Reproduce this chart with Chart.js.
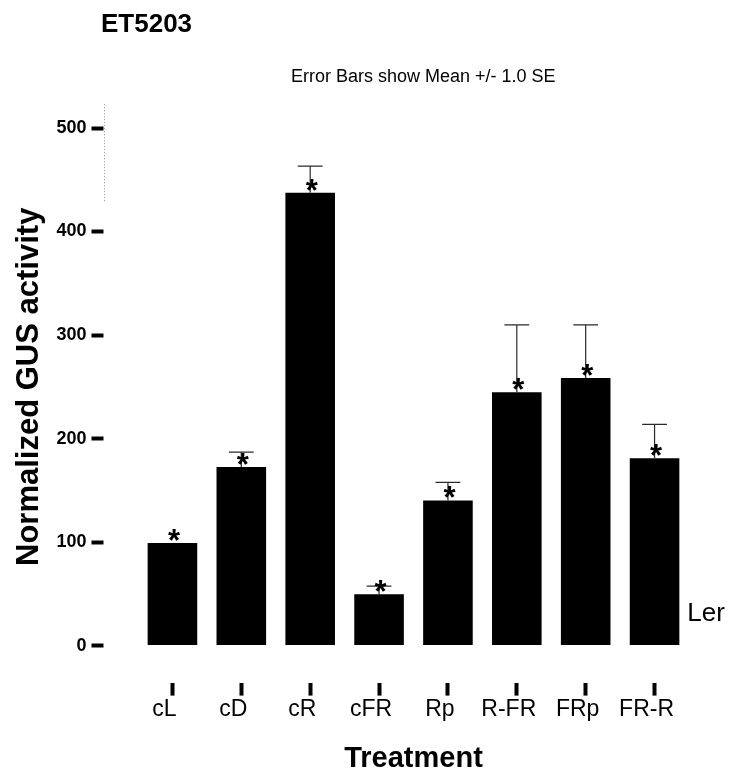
<!DOCTYPE html>
<html>
<head>
<meta charset="utf-8">
<script src="https://cdn.jsdelivr.net/npm/chart.js@4"></script>
<style>
  html, body { margin: 0; padding: 0; background: #ffffff; }
  #wrap { position: relative; width: 732px; height: 776px; }
</style>
</head>
<body>
<div id="wrap"><canvas id="c"></canvas></div>
<script>
// ---- data ----
const categories = ['cL', 'cD', 'cR', 'cFR', 'Rp', 'R-FR', 'FRp', 'FR-R'];
const meanValues = [99, 172.6, 437.5, 49.7, 140.2, 244.8, 258.6, 181];
const seValues   = [0, 14.2, 25.6, 7.8, 17.5, 65, 51.2, 32.7];
const yTickValues = [0, 100, 200, 300, 400, 500];
const titleText = 'ET5203';
const subtitleText = 'Error Bars show Mean +/- 1.0 SE';
const seriesName = 'Ler';
const xTitle = 'Treatment';
const yTitle = 'Normalized GUS activity';

const FONT = "'Liberation Sans', Arial, Helvetica, sans-serif";
const Y_TICK_GAP = 34.5;   // gap between plot area and the y tick marks
const Y_TICK_LEN = 12;
const X_TICK_GAP = 37;
const X_TICK_LEN = 13;

const decorPlugin = {
  id: 'decor',
  afterDatasetsDraw(chart) {
    const ctx = chart.ctx;
    const y = chart.scales.y;
    const meta = chart.getDatasetMeta(0);
    ctx.save();
    meta.data.forEach((bar, i) => {
      const se = seValues[i];
      if (se > 0) {
        const yTop = y.getPixelForValue(meanValues[i] + se);
        const half = bar.width * 0.25;
        ctx.strokeStyle = '#2a2a2a';
        ctx.lineWidth = 1.2;
        ctx.beginPath();
        ctx.moveTo(bar.x, bar.y);
        ctx.lineTo(bar.x, yTop);
        ctx.moveTo(bar.x - half, yTop);
        ctx.lineTo(bar.x + half, yTop);
        ctx.stroke();
      }
      // asterisk marking the mean
      ctx.fillStyle = '#000';
      ctx.font = 'bold 31px ' + FONT;
      ctx.textAlign = 'center';
      ctx.textBaseline = 'alphabetic';
      ctx.fillText('*', bar.x + 1.5, bar.y + 8);
    });
    ctx.restore();
  },
  afterDraw(chart) {
    const ctx = chart.ctx;
    const area = chart.chartArea;
    const y = chart.scales.y;
    const meta = chart.getDatasetMeta(0);
    ctx.save();
    // faint dotted axis fragment at the top of the y axis
    ctx.strokeStyle = '#8a8a8a';
    ctx.lineWidth = 1;
    ctx.setLineDash([1, 2]);
    ctx.beginPath();
    const ax = Math.round(area.left - Y_TICK_GAP) + 0.5;
    ctx.moveTo(ax, y.getPixelForValue(523));
    ctx.lineTo(ax, y.getPixelForValue(428));
    ctx.stroke();
    ctx.setLineDash([]);
    // title and subtitle
    ctx.fillStyle = '#000';
    ctx.textAlign = 'left';
    ctx.textBaseline = 'alphabetic';
    ctx.font = 'bold 26px ' + FONT;
    ctx.fillText(titleText, 101, 32);
    ctx.font = '18px ' + FONT;
    ctx.fillText(subtitleText, 291, 82);
    // series label beside the last bar
    const last = meta.data[meta.data.length - 1];
    ctx.font = '26px ' + FONT;
    ctx.fillText(seriesName, last.x + last.width / 2 + 8, 621);
    ctx.restore();
  }
};

new Chart(document.getElementById('c'), {
  type: 'bar',
  data: {
    labels: categories,
    datasets: [{
      label: seriesName,
      data: meanValues,
      backgroundColor: '#000000',
      borderWidth: 0,
      categoryPercentage: 1.0,
      barPercentage: 0.72
    }]
  },
  options: {
    responsive: true,
    maintainAspectRatio: false,
    animation: false,
    layout: { padding: { top: 128, right: 43, bottom: 0, left: 0 } },
    plugins: {
      legend: { display: false },
      tooltip: { enabled: false },
      title: { display: false }
    },
    scales: {
      x: {
        offset: true,
        border: { display: false },
        grid: {
          display: true,
          offset: false,
          drawOnChartArea: false,
          drawTicks: true,
          tickLength: X_TICK_GAP + X_TICK_LEN,
          tickWidth: 4,
          tickColor: '#000',
          tickBorderDash: [X_TICK_LEN, X_TICK_GAP],
          tickBorderDashOffset: X_TICK_LEN
        },
        ticks: {
          color: '#000',
          font: { family: FONT, size: 23 },
          padding: 0,
          labelOffset: -8,
          maxRotation: 0,
          autoSkip: false
        },
        title: {
          display: true,
          text: xTitle,
          color: '#000',
          font: { family: FONT, size: 29, weight: 'bold' },
          padding: { top: 18, bottom: 0 }
        }
      },
      y: {
        min: 0,
        max: 500,
        afterFit(scale) { scale.width = 138; },
        afterBuildTicks(scale) { scale.ticks = yTickValues.map(v => ({ value: v })); },
        border: { display: false },
        grid: {
          display: true,
          drawOnChartArea: false,
          drawTicks: true,
          tickLength: Y_TICK_GAP + Y_TICK_LEN,
          tickWidth: 4,
          tickColor: '#000',
          tickBorderDash: [Y_TICK_LEN, Y_TICK_GAP],
          tickBorderDashOffset: 0
        },
        ticks: {
          color: '#000',
          font: { family: FONT, size: 18, weight: 'bold' },
          padding: 5
        },
        title: {
          display: true,
          text: yTitle,
          color: '#000',
          font: { family: FONT, size: 31, weight: 'bold' },
          padding: { top: 11, bottom: 0 }
        }
      }
    }
  },
  plugins: [decorPlugin]
});
</script>
</body>
</html>
